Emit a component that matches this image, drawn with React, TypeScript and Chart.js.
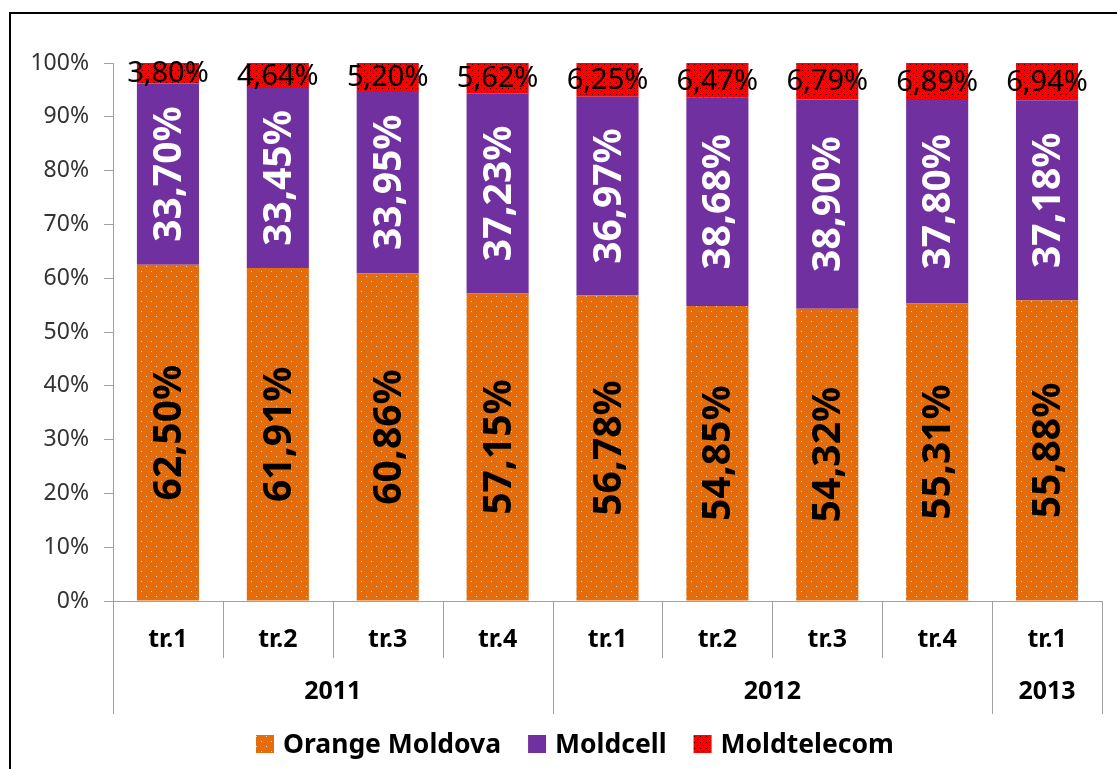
import React, { useEffect, useRef } from "react";
import { Chart, registerables } from "chart.js";

Chart.register(...registerables);

const categories = ["tr.1", "tr.2", "tr.3", "tr.4", "tr.1", "tr.2", "tr.3", "tr.4", "tr.1"];
const years = ["2011", "2012", "2013"];
const yearSpans = [4, 4, 1];
const seriesNames = ["Orange Moldova", "Moldcell", "Moldtelecom"];
const orangeValues = [62.5, 61.91, 60.86, 57.15, 56.78, 54.85, 54.32, 55.31, 55.88];
const moldcellValues = [33.7, 33.45, 33.95, 37.23, 36.97, 38.68, 38.9, 37.8, 37.18];
const moldtelecomValues = [3.8, 4.64, 5.2, 5.62, 6.25, 6.47, 6.79, 6.89, 6.94];
const yTicks = [0, 10, 20, 30, 40, 50, 60, 70, 80, 90, 100];

const ORANGE = "#E46C0A";
const PURPLE = "#7030A0";
const RED = "#FF0000";
const GRAY = "#A0A0A0";
const FONT = "'Noto Sans', 'DejaVu Sans', sans-serif";

function makePattern(bg: string, dot: string, alpha: number, size: number): CanvasPattern | string {
  const c = document.createElement("canvas");
  c.width = size;
  c.height = size;
  const g = c.getContext("2d");
  if (!g) return bg;
  g.fillStyle = bg;
  g.fillRect(0, 0, size, size);
  g.globalAlpha = alpha;
  g.fillStyle = dot;
  const h = Math.floor(size / 2);
  g.fillRect(1, 1, 1, 1);
  g.fillRect(1 + h, 1 + h, 1, 1);
  const p = g.createPattern(c, "repeat");
  return p || bg;
}

const fmt = (v: number) => v.toFixed(2).replace(".", ",") + "%";

export default function App() {
  const ref = useRef<HTMLCanvasElement | null>(null);

  useEffect(() => {
    if (!ref.current) return;
    const orangeFill = makePattern(ORANGE, "#FFFFFF", 0.75, 10);
    const redFill = makePattern(RED, "#000000", 0.85, 6);
    const fills = [orangeFill, PURPLE, redFill];

    const custom = {
      id: "custom",
      afterDatasetsDraw(chart: any) {
        const ctx = chart.ctx;
        ctx.save();
        chart.data.datasets.forEach((ds: any, di: number) => {
          const meta = chart.getDatasetMeta(di);
          meta.data.forEach((el: any, i: number) => {
            const v = ds.data[i];
            const cx = el.x;
            const cy = (el.y + el.base) / 2;
            const txt = fmt(v);
            ctx.textAlign = "center";
            ctx.textBaseline = "middle";
            if (di === 2) {
              ctx.font = `400 29px ${FONT}`;
              ctx.fillStyle = "#000";
              ctx.fillText(txt, cx, cy + 1);
            } else {
              ctx.save();
              ctx.translate(cx, cy);
              ctx.rotate(-Math.PI / 2);
              ctx.font = `700 39px ${FONT}`;
              ctx.fillStyle = di === 0 ? "#000" : "#FFF";
              ctx.fillText(txt, 0, 2);
              ctx.restore();
            }
          });
        });
        ctx.restore();
      },
      afterDraw(chart: any) {
        const ctx = chart.ctx;
        const xs = chart.scales.x;
        const area = chart.chartArea;
        const n = categories.length;
        const step = (area.right - area.left) / n;
        const bottom = area.bottom;
        ctx.save();
        ctx.strokeStyle = GRAY;
        ctx.lineWidth = 1;
        for (let i = 0; i <= n; i++) {
          const x = Math.round(xs.getPixelForValue(i) - step / 2) + 0.5;
          ctx.beginPath();
          ctx.moveTo(x, bottom);
          ctx.lineTo(x, bottom + 57);
          ctx.stroke();
        }
        let idx = 0;
        const bounds = [0];
        yearSpans.forEach((s) => {
          idx += s;
          bounds.push(idx);
        });
        bounds.forEach((b) => {
          const x = Math.round(xs.getPixelForValue(b) - step / 2) + 0.5;
          ctx.beginPath();
          ctx.moveTo(x, bottom);
          ctx.lineTo(x, bottom + 113);
          ctx.stroke();
        });
        ctx.fillStyle = "#000";
        ctx.textAlign = "center";
        ctx.textBaseline = "middle";
        ctx.font = `700 25px ${FONT}`;
        categories.forEach((c, i) => {
          ctx.fillText(c, xs.getPixelForValue(i), bottom + 39);
        });
        years.forEach((y, j) => {
          const a = xs.getPixelForValue(bounds[j]) - step / 2;
          const b = xs.getPixelForValue(bounds[j + 1]) - step / 2;
          ctx.fillText(y, (a + b) / 2, bottom + 91);
        });
        ctx.font = `700 26.5px ${FONT}`;
        ctx.textAlign = "left";
        let lx = 256;
        const ly = 744;
        seriesNames.forEach((name, k) => {
          ctx.fillStyle = fills[k] as any;
          ctx.fillRect(lx, ly - 9, 18, 18);
          ctx.fillStyle = "#000";
          ctx.fillText(name, lx + 27, ly + 1);
          lx += 27 + ctx.measureText(name).width + 27;
        });
        ctx.strokeStyle = "#000";
        ctx.lineWidth = 2;
        ctx.strokeRect(10, 13, 1300, 1000);
        ctx.restore();
      },
    };

    const chart = new Chart(ref.current, {
      type: "bar",
      data: {
        labels: categories,
        datasets: [
          { label: seriesNames[0], data: orangeValues, backgroundColor: orangeFill as any },
          { label: seriesNames[1], data: moldcellValues, backgroundColor: PURPLE },
          { label: seriesNames[2], data: moldtelecomValues, backgroundColor: redFill as any },
        ],
      },
      options: {
        animation: false,
        responsive: false,
        maintainAspectRatio: false,
        devicePixelRatio: 1,
        layout: { padding: { top: 63, right: 15, left: 0, bottom: 0 } },
        datasets: { bar: { categoryPercentage: 1, barPercentage: 0.565 } } as any,
        plugins: {
          legend: { display: false },
          tooltip: { enabled: false },
          title: { display: false },
        },
        scales: {
          x: {
            stacked: true,
            grid: { display: false },
            border: { display: true, color: GRAY },
            ticks: { display: false },
            afterFit: (s: any) => {
              s.height = 168;
            },
          },
          y: {
            stacked: true,
            min: 0,
            max: 100,
            afterBuildTicks: (s: any) => {
              s.ticks = yTicks.map((v) => ({ value: v }));
            },
            grid: {
              display: true,
              drawOnChartArea: false,
              drawTicks: true,
              tickLength: 9,
              color: GRAY,
            },
            border: { display: true, color: GRAY },
            ticks: {
              padding: 15,
              color: "#333",
              font: { family: FONT, size: 23 },
              callback: (v: any) => v + "%",
            },
            afterFit: (s: any) => {
              s.width = 113;
            },
          },
        },
      },
      plugins: [custom],
    });
    return () => chart.destroy();
  }, []);

  return (
    <div style={{ position: "absolute", left: 0, top: 0, width: 1117, height: 769, background: "#fff" }}>
      <canvas ref={ref} width={1117} height={769} style={{ width: 1117, height: 769 }} />
    </div>
  );
}
